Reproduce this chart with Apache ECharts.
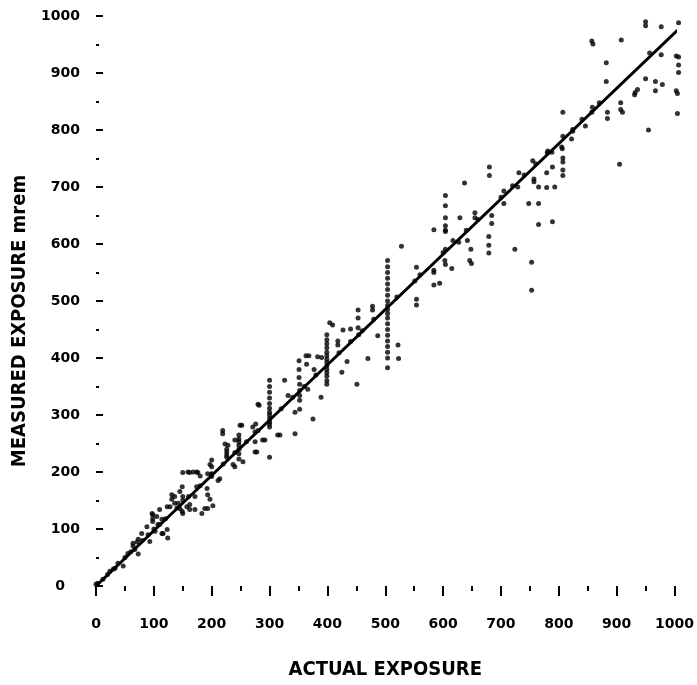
<!DOCTYPE html>
<html>
<head>
<meta charset="utf-8">
<script src="https://cdn.jsdelivr.net/npm/echarts@6/dist/echarts.min.js"></script>
<style>
html,body{margin:0;padding:0;background:#fff;}
#chart{width:697px;height:685px;}
</style>
</head>
<body>
<div id="chart"></div>
<script>
// Actual exposure (x) and measured exposure (y), mrem
const actual = [
  0,3,12,20,24,30,33,38,47,50,55,60,64,64,67,71,73,73,79,80,88,90,93,97,98,98,98,100,102,105,107,110,110,114,114,116,120,123,123,124,128,131,131,136,136,140,142,145,145,149,149,150,150,150,150,157,159,160,162,162,162,168,171,171,174,174,176,180,180,183,188,192,193,193,193,197,197,200,200,200,200,200,202,211,214,
  219,219,220,223,226,226,226,228,226,237,240,240,240,247,247,247,247,247,247,247,249,252,254,260,271,275,275,275,276,278,280,280,282,288,292,
  300,300,300,300,300,300,300,300,300,300,300,300,300,314,318,320,326,332,340,344,344,351,351,351,352,352,352,352,352,360,363,364,366,368,375,377,380,383,389,390,
  399,399,399,399,399,399,399,399,399,399,399,399,399,399,404,409,418,418,420,425,427,434,440,440,451,453,453,453,454,460,470,478,478,480,487,
  504,504,504,504,504,504,504,504,504,504,504,504,504,504,504,504,504,504,504,504,
  520,522,523,528,551,554,554,554,560,584,584,584,584,594,600,603,604,604,604,604,604,604,604,604,615,617,627,629,637,640,642,646,648,649,655,655,660,679,679,679,680,680,684,684,700,
  705,705,720,724,729,731,740,748,753,753,755,757,757,760,765,765,765,779,779,780,781,788,789,789,793,805,806,807,807,807,807,807,807,822,824,824,840,846,857,859,857,858,870,882,882,884,884,905,907,907,910,908,931,932,936,950,950,950,955,957,967,967,977,977,979,1003,1003,1005,1005,1007,1007,1007,1007
];
const measured = [
  3,5,12,20,26,30,31,40,35,50,57,60,70,75,64,77,56,82,92,80,104,90,78,127,125,118,113,100,96,122,108,134,108,117,92,92,118,99,139,84,139,152,160,145,157,137,145,136,166,174,131,157,127,199,150,139,200,157,134,143,199,200,134,157,174,200,199,193,176,127,136,171,160,136,197,152,213,221,209,197,192,196,141,185,188,
  273,267,214,249,240,235,226,247,230,213,256,209,234,265,258,253,247,240,232,223,282,282,218,253,279,270,235,253,284,235,319,273,317,256,256,
  361,350,340,330,320,312,305,300,294,288,284,279,226,265,265,311,361,334,331,305,267,395,380,366,354,343,334,326,310,350,404,389,345,404,293,380,370,402,331,401,
  441,432,425,418,410,404,398,392,386,380,374,368,360,354,462,458,430,423,409,375,449,394,451,429,354,484,470,453,441,448,399,491,484,468,439,
  571,560,550,540,530,520,510,500,492,485,478,470,460,450,440,430,420,410,400,383,
  507,423,399,596,535,559,503,493,546,625,554,550,528,531,585,571,685,667,646,632,624,622,591,564,557,606,603,646,707,624,606,571,591,566,655,646,643,613,598,584,735,720,650,636,682,
  693,671,702,591,700,725,721,671,568,519,746,714,709,741,700,671,634,699,725,760,763,761,735,639,700,770,767,831,789,751,744,730,720,784,798,801,819,807,956,951,831,840,848,918,885,831,820,740,848,836,831,958,862,866,871,990,983,890,800,935,885,869,981,932,880,930,869,864,829,928,914,901,988
];
// Fitted line end points
const fitX = [0, 1005];
const fitY = [0, 975];

const yTicks = [0,100,200,300,400,500,600,700,800,900,1000];
const xTicks = [0,100,200,300,400,500,600,700,800,900,1000];

const pts = actual.map((a, i) => [a, measured[i]]);
const linePts = fitX.map((x, i) => [x, fitY[i]]);

const chart = echarts.init(document.getElementById('chart'), null, {renderer: 'canvas'});
const labelFont = {fontFamily: 'DejaVu Sans', fontWeight: 'bold', fontSize: 14, color: '#000'};
chart.setOption({
  animation: false,
  backgroundColor: '#fff',
  grid: {left: 96, right: 22, top: 16, bottom: 95, containLabel: false},
  xAxis: {
    type: 'value', min: 0, max: 1000, interval: 100,
    name: 'ACTUAL EXPOSURE', nameLocation: 'middle', nameGap: 74,
    nameTextStyle: {fontFamily: 'DejaVu Sans Condensed', fontWeight: 'bold', fontSize: 20, color: '#000'},
    axisLine: {show: false},
    axisTick: {show: true, length: 10, lineStyle: {color: '#000', width: 2}},
    minorTick: {show: true, splitNumber: 2, length: 5, lineStyle: {color: '#000', width: 2}},
    splitLine: {show: false},
    axisLabel: Object.assign({margin: 31, formatter: v => xTicks.includes(v) ? String(v) : ''}, labelFont)
  },
  yAxis: {
    type: 'value', min: 0, max: 1000, interval: 100,
    name: 'MEASURED EXPOSURE mrem', nameLocation: 'middle', nameGap: 64,
    nameTextStyle: {fontFamily: 'DejaVu Sans Condensed', fontWeight: 'bold', fontSize: 20, color: '#000', padding: [0, 40, 0, 0]},
    axisLine: {show: false},
    axisTick: {show: true, inside: true, length: 7, lineStyle: {color: '#000', width: 2}},
    minorTick: {show: true, splitNumber: 2, length: 3, lineStyle: {color: '#000', width: 2}},
    splitLine: {show: false},
    axisLabel: Object.assign({margin: 16,
      formatter: v => v === 0 ? '{z|0}' : (yTicks.includes(v) ? String(v) : ''),
      rich: {z: {fontFamily: 'DejaVu Sans', fontWeight: 'bold', fontSize: 14, color: '#000', padding: [0, 15, 0, 0]}}
    }, labelFont)
  },
  series: [
    {
      type: 'scatter', data: pts, symbol: 'circle', symbolSize: 5, clip: false,
      itemStyle: {color: '#000'}
    },
    {
      type: 'line', data: linePts, symbol: 'none', clip: false,
      lineStyle: {color: '#000', width: 3}
    }
  ]
});
</script>
</body>
</html>
